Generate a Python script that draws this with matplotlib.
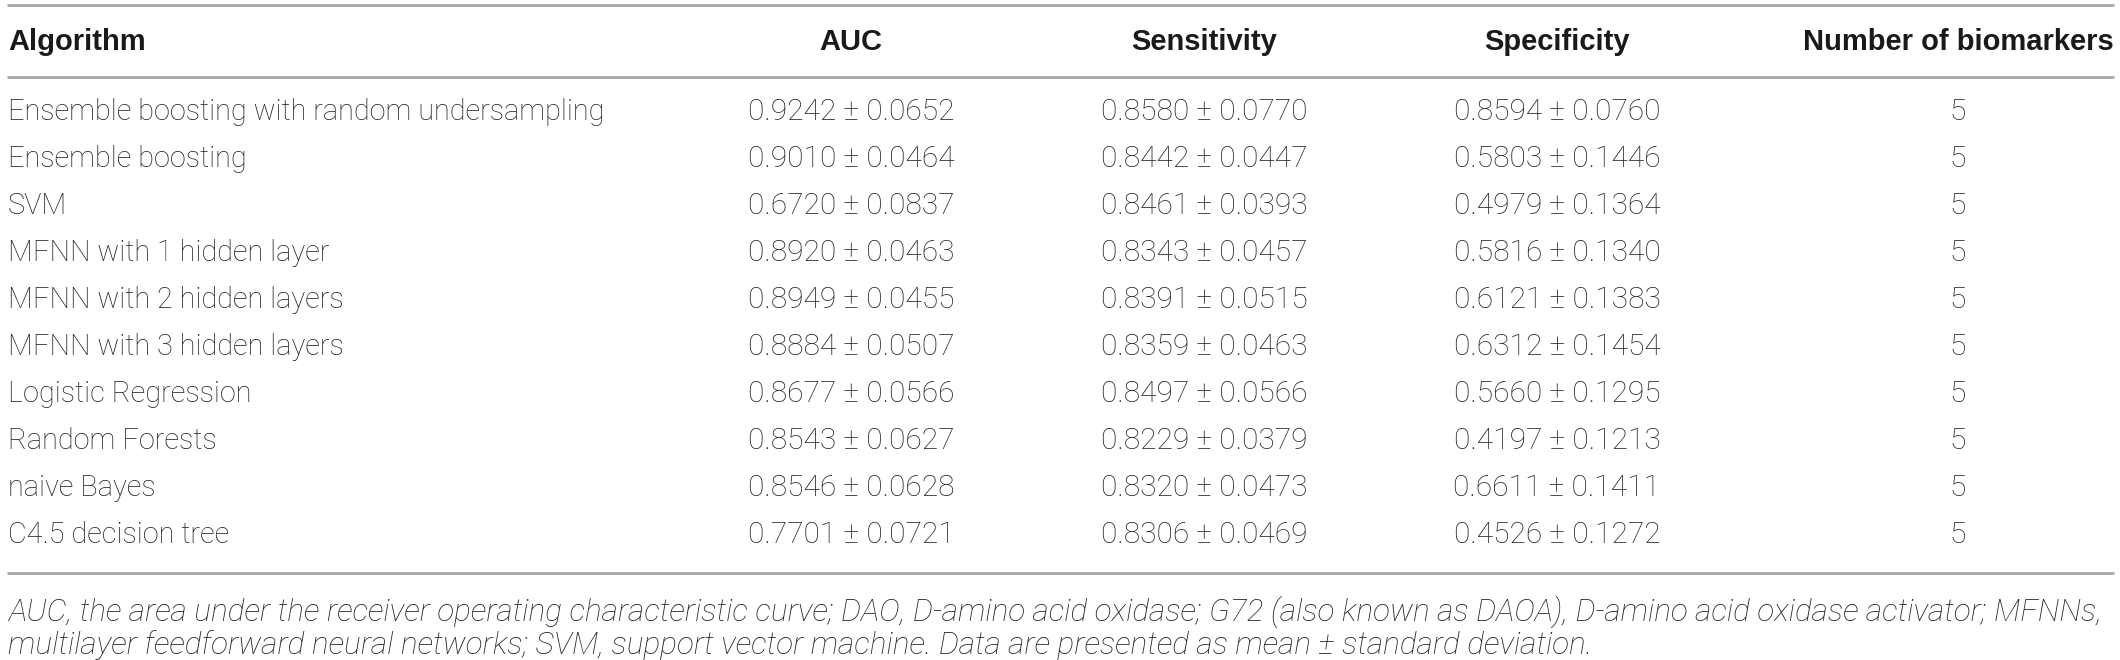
import matplotlib
matplotlib.use("Agg")
import matplotlib.pyplot as plt

# Table data
algorithms = [
    "Ensemble boosting with random undersampling",
    "Ensemble boosting",
    "SVM",
    "MFNN with 1 hidden layer",
    "MFNN with 2 hidden layers",
    "MFNN with 3 hidden layers",
    "Logistic Regression",
    "Random Forests",
    "naive Bayes",
    "C4.5 decision tree",
]
auc = ["0.9242 ± 0.0652", "0.9010 ± 0.0464", "0.6720 ± 0.0837", "0.8920 ± 0.0463",
       "0.8949 ± 0.0455", "0.8884 ± 0.0507", "0.8677 ± 0.0566", "0.8543 ± 0.0627",
       "0.8546 ± 0.0628", "0.7701 ± 0.0721"]
sensitivity = ["0.8580 ± 0.0770", "0.8442 ± 0.0447", "0.8461 ± 0.0393", "0.8343 ± 0.0457",
               "0.8391 ± 0.0515", "0.8359 ± 0.0463", "0.8497 ± 0.0566", "0.8229 ± 0.0379",
               "0.8320 ± 0.0473", "0.8306 ± 0.0469"]
specificity = ["0.8594 ± 0.0760", "0.5803 ± 0.1446", "0.4979 ± 0.1364", "0.5816 ± 0.1340",
               "0.6121 ± 0.1383", "0.6312 ± 0.1454", "0.5660 ± 0.1295", "0.4197 ± 0.1213",
               "0.6611 ± 0.1411", "0.4526 ± 0.1272"]
n_biomarkers = [5, 5, 5, 5, 5, 5, 5, 5, 5, 5]
headers = ["Algorithm", "AUC", "Sensitivity", "Specificity", "Number of biomarkers"]
footnote = [
    "AUC, the area under the receiver operating characteristic curve; DAO, D-amino acid oxidase; "
    "G72 (also known as DAOA), D-amino acid oxidase activator; MFNNs,",
    "multilayer feedforward neural networks; SVM, support vector machine. "
    "Data are presented as mean ± standard deviation.",
]

W, H = 2120, 660
fig = plt.figure(figsize=(W / 100, H / 100), dpi=100)
ax = fig.add_axes([0, 0, 1, 1])
ax.set_xlim(0, W)
ax.set_ylim(H, 0)
ax.axis("off")

body_fam = ["Roboto", "DejaVu Sans"]
head_fam = ["Liberation Sans", "DejaVu Sans"]

col_x = [8, 851, 1204, 1557, 1958]
header_y = 42
row0, row_step = 112, 47.0
line_color = "#a8a8a8"

# rules
ax.hlines([5, 77], 7, 2114, color=line_color, lw=2)
bottom_y = row0 + row_step * (len(algorithms) - 1) + 38
ax.hlines(bottom_y, 7, 2114, color=line_color, lw=2)

# header
for i, h in enumerate(headers):
    ax.text(col_x[i], header_y, h, ha="left" if i == 0 else "center", va="center",
            fontsize=21, fontweight="bold", family=head_fam, color="#1a1a1a")

# body
columns = [algorithms, auc, sensitivity, specificity, [str(v) for v in n_biomarkers]]
for r in range(len(algorithms)):
    y = row0 + r * row_step
    for c, col in enumerate(columns):
        ax.text(col_x[c], y, col[r], ha="left" if c == 0 else "center", va="center",
                fontsize=20.8 if c == 0 else 21.5, fontweight="light",
                family=body_fam, color="#222222")

# footnote
for k, line in enumerate(footnote):
    ax.text(8, bottom_y + 39 + k * 33, line, ha="left", va="center", fontsize=22.7,
            fontstyle="italic", fontweight="light", family=body_fam, color="#222222")

fig.savefig("out.png", dpi=100)
